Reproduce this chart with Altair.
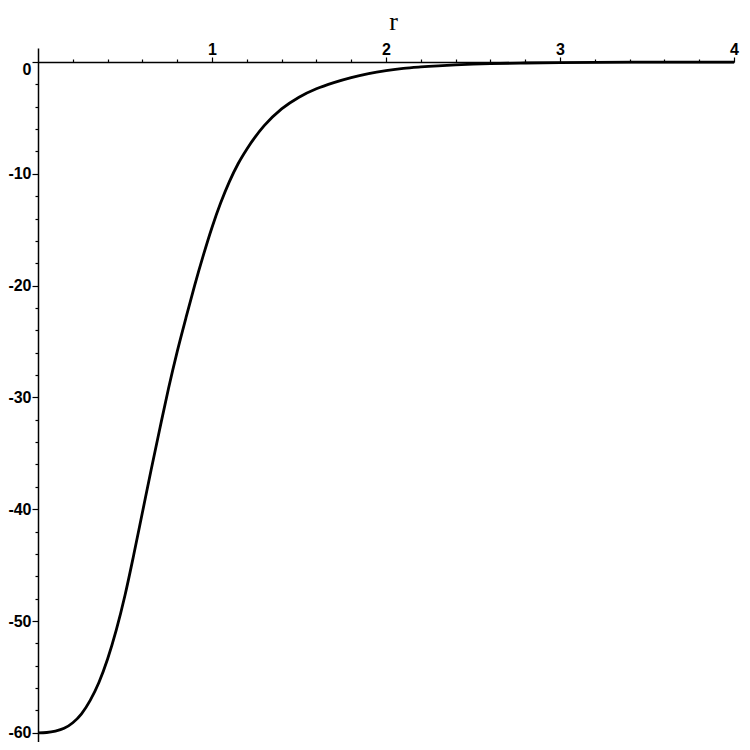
import altair as alt
import pandas as pd

# curve
r_vals = [0.0, 0.05, 0.10, 0.15, 0.20, 0.25, 0.30, 0.35, 0.40, 0.45, 0.50, 0.55, 0.60,
          0.65, 0.70, 0.75, 0.80, 0.85, 0.90, 0.95, 1.00, 1.05, 1.10, 1.15, 1.20,
          1.30, 1.40, 1.50, 1.60, 1.70, 1.80, 1.90, 2.00, 2.10, 2.20, 2.30, 2.40,
          2.50, 2.60, 2.80, 3.00, 3.20, 3.50, 4.00]
v_vals = [-60.0, -59.97, -59.85, -59.6, -59.1, -58.3, -57.1, -55.5, -53.4, -50.8, -47.7,
          -44.1, -40.3, -36.5, -32.8, -29.2, -25.9, -22.9, -20.0, -17.3, -14.8, -12.6,
          -10.7, -9.1, -7.8, -5.7, -4.2, -3.15, -2.4, -1.85, -1.4, -1.05, -0.78, -0.57,
          -0.44, -0.34, -0.26, -0.2, -0.15, -0.09, -0.05, -0.03, -0.015, -0.005]

x_tick_values = [0.2, 0.4, 0.6, 0.8, 1.0, 1.2, 1.4, 1.6, 1.8, 2.0, 2.2, 2.4, 2.6, 2.8,
                 3.0, 3.2, 3.4, 3.6, 3.8, 4.0]
y_tick_values = [-60, -58, -56, -54, -52, -50, -48, -46, -44, -42, -40, -38, -36, -34,
                 -32, -30, -28, -26, -24, -22, -20, -18, -16, -14, -12, -10, -8, -6,
                 -4, -2, 0]

df = pd.DataFrame({"r": r_vals, "v": v_vals})

x_axis = alt.Axis(
    orient="top",
    offset=-14,
    values=x_tick_values,
    grid=False,
    domainColor="black",
    domainWidth=1.5,
    tickColor="black",
    tickWidth=1.2,
    tickSize={"condition": {"test": "abs(datum.value - round(datum.value)) < 0.001", "value": 5}, "value": 3},
    labelExpr="abs(datum.value - round(datum.value)) < 0.001 ? '' + round(datum.value) : ''",
    labelFont="Liberation Sans",
    labelFontWeight="bold",
    labelFontSize=16,
    labelColor="black",
    labelPadding=0,
    labelFlush=False,
    labelOverlap=False,
    title="r",
    titleFont="Liberation Serif",
    titleFontSize=26,
    titleFontWeight="normal",
    titleColor="black",
    titleX=355,
    titleY=-33,
    titleAlign="center",
    titleBaseline="alphabetic",
)

y_axis = alt.Axis(
    orient="left",
    values=y_tick_values,
    grid=False,
    domainColor="black",
    domainWidth=1.5,
    tickColor="black",
    tickWidth=1.2,
    tickSize={"condition": {"test": "datum.value % 10 == 0", "value": 6}, "value": 3},
    labelExpr="datum.value % 10 == 0 ? '' + datum.value : ''",
    labelOffset={"condition": {"test": "datum.value == 0", "value": 8}, "value": 0},
    labelFont="Liberation Sans",
    labelFontWeight="bold",
    labelFontSize=16,
    labelColor="black",
    labelPadding=1,
    labelOverlap=False,
    labelFlush=False,
    title=None,
)

chart = alt.Chart(df).mark_line(
    color="black", strokeWidth=2.8, interpolate="monotone", clip=True
).encode(
    x=alt.X("r:Q", scale=alt.Scale(domain=[0, 4], nice=False, zero=False), axis=x_axis),
    y=alt.Y("v:Q", scale=alt.Scale(domain=[-60.82, 1.25], nice=False, zero=False), axis=y_axis),
).properties(
    width=696,
    height=694,
    autosize=alt.AutoSizeParams(type="none"),
    padding={"left": 30, "top": 40, "right": 8, "bottom": 0},
    background="white",
).configure_view(stroke=None)

chart.save("out.html", embed_options={"renderer": "svg", "actions": False})
